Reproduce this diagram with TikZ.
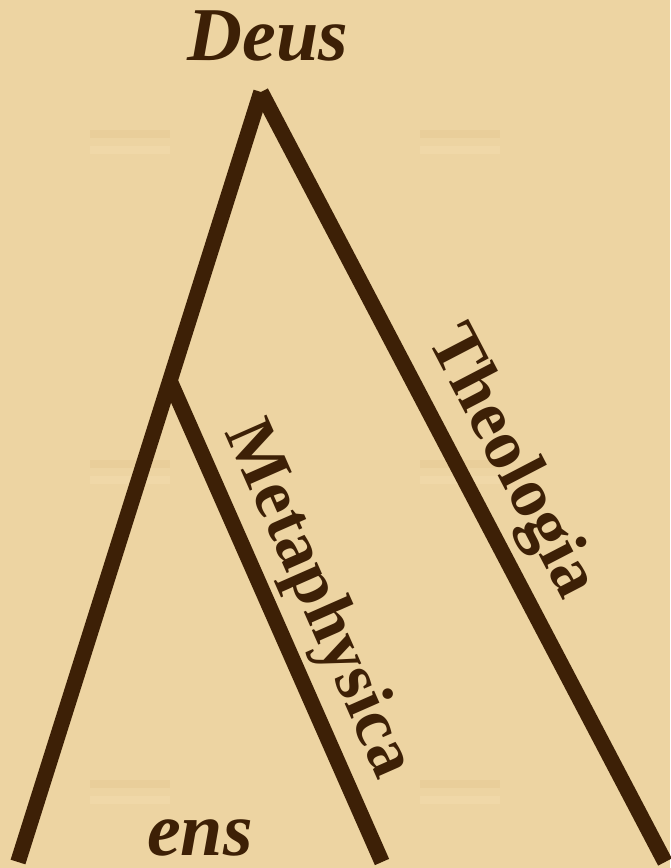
\documentclass[tikz,border=0pt]{standalone}
\usepackage{fontspec}
\setmainfont{Liberation Serif}
\usetikzlibrary{calc}
\definecolor{parch}{HTML}{EDD4A2}
\definecolor{parchlt}{HTML}{F0D8A8}
\definecolor{parchdk}{HTML}{E9CE9A}
\definecolor{umber}{HTML}{3D2006}
\tikzset{
  branch/.style={draw=umber,line width=15.5pt,line cap=butt},   % tree stroke
  endname/.style={text=umber,inner sep=0pt,anchor=base,
    font=\bfseries\itshape\fontsize{76}{76}\selectfont},
  armname/.style={text=umber,inner sep=0pt,anchor=center,
    font=\bfseries\fontsize{70}{70}\selectfont},
  band/.style={fill=#1,draw=none},
}

\begin{document}
\begin{tikzpicture}[x=1pt,y=-1pt]
  % parchment
  \fill[parch] (0,0) rectangle (670,868);
  \foreach \y in {130,460,780} {
    \fill[band=parchdk] (90,\y) rectangle (170,\y+8);
    \fill[band=parchdk] (420,\y) rectangle (500,\y+8);
    \fill[band=parchlt] (90,\y+16) rectangle (170,\y+24);
    \fill[band=parchlt] (420,\y+16) rectangle (500,\y+24);
  }
  \useasboundingbox (0,0) rectangle (670,868);
  % tree
  \coordinate (apex) at (261,92);
  \coordinate (fork) at (170,381);
  \coordinate (leftend) at (18,862);
  \coordinate (midend) at (382,862);
  \coordinate (rightend) at (665,862);
  \draw[branch] (apex) -- (leftend);
  \draw[branch] (apex) -- (rightend);
  \draw[branch] (fork) -- (midend);
  % names
  \node[endname] (deus) at (268,60) {Deus};
  \node[endname] (ens) at (200,855) {ens};
  \node[armname,rotate=-66.2] (meta) at (317,600) {Metaphysica};
  \node[armname,rotate=-62.5] (theo) at (510,463) {Theologia};
\end{tikzpicture}
\end{document}
